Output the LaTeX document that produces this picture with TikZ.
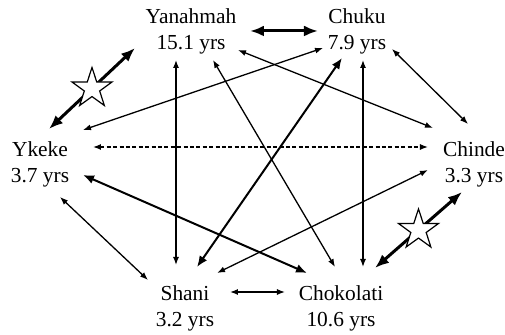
\documentclass[tikz,border=0pt]{standalone}
\usepackage{fontspec}
\setmainfont{Liberation Serif}
\usetikzlibrary{arrows.meta,shapes.geometric,calc}

\tikzset{x=0.5pt, y=-0.5pt, every node/.append style={font=\fontsize{10.7}{13}\selectfont, align=center, inner sep=0pt}}
\tikzset{
    thinarr/.style={line width=0.65pt, {Latex[length=4pt,width=3pt]}-{Latex[length=4pt,width=3pt]}},
    boldarr/.style={line width=1pt, {Latex[length=5.5pt,width=4.5pt]}-{Latex[length=5.5pt,width=4.5pt]}},
    heavyarr/.style={line width=1.5pt, {Latex[length=7pt,width=5.5pt]}-{Latex[length=7pt,width=5.5pt]}},
    starmark/.style={star, star points=5, star point ratio=2.6, minimum size=21pt, draw, fill=white, line width=0.6pt}
}

\begin{document}
\begin{tikzpicture}
                \useasboundingbox (0,0) rectangle (505,335);
                % the six animals
                \node (yan) at (191,31)  {Yanahmah\\15.1 yrs};
                \node (chu) at (357,31)  {Chuku\\7.9 yrs};
                \node (yke) at (40,164)  {Ykeke\\3.7 yrs};
                \node (chi) at (474,164) {Chinde\\3.3 yrs};
                \node (sha) at (185,308) {Shani\\3.2 yrs};
                \node (cho) at (341,308) {Chokolati\\10.6 yrs};
                % thin links
                \draw[thinarr] ($(chu)+(35,18)$) -- ($(chi)+(-6,-40)$);
                \draw[thinarr] ($(yke)+(20,33)$) -- ($(sha)+(-37,-28)$);
                \draw[thinarr] ($(sha)+(45,-16)$) -- ($(cho)+(-56,-16)$);
                \draw[thinarr, dash pattern=on 2pt off 1.2pt] ($(yke)+(53,-17)$) -- ($(chi)+(-46,-17)$);
                \draw[thinarr] ($(yan)+(-15,29)$) -- ($(sha)+(-9,-43)$);
                \draw[thinarr] ($(chu)+(6,29)$) -- ($(cho)+(22,-41)$);
                \draw[thinarr] ($(yan)+(22,29)$) -- ($(cho)+(-6,-41)$);
                \draw[thinarr] ($(yan)+(47,19)$) -- ($(chi)+(-41,-36)$);
                \draw[thinarr] ($(yke)+(43,-34)$) -- ($(chu)+(-34,17)$);
                \draw[thinarr] ($(sha)+(32,-35)$) -- ($(chi)+(-46,6)$);
                % bolder links
                \draw[boldarr] ($(chu)+(-15,27)$) -- ($(sha)+(12,-41)$);
                \draw[boldarr] ($(yke)+(43,11)$) -- ($(cho)+(-34,-35)$);
                % strongest links
                \draw[heavyarr] ($(yan)+(59,0)$) -- ($(chu)+(-39,0)$);
                \draw[heavyarr] ($(yan)+(-56,17)$) -- node[starmark] (star1) {} ($(yke)+(9,-35)$);
                \draw[heavyarr] ($(chi)+(-12,28)$) -- node[starmark] (star2) {} ($(cho)+(34,-40)$);
            \end{tikzpicture}
\end{document}
